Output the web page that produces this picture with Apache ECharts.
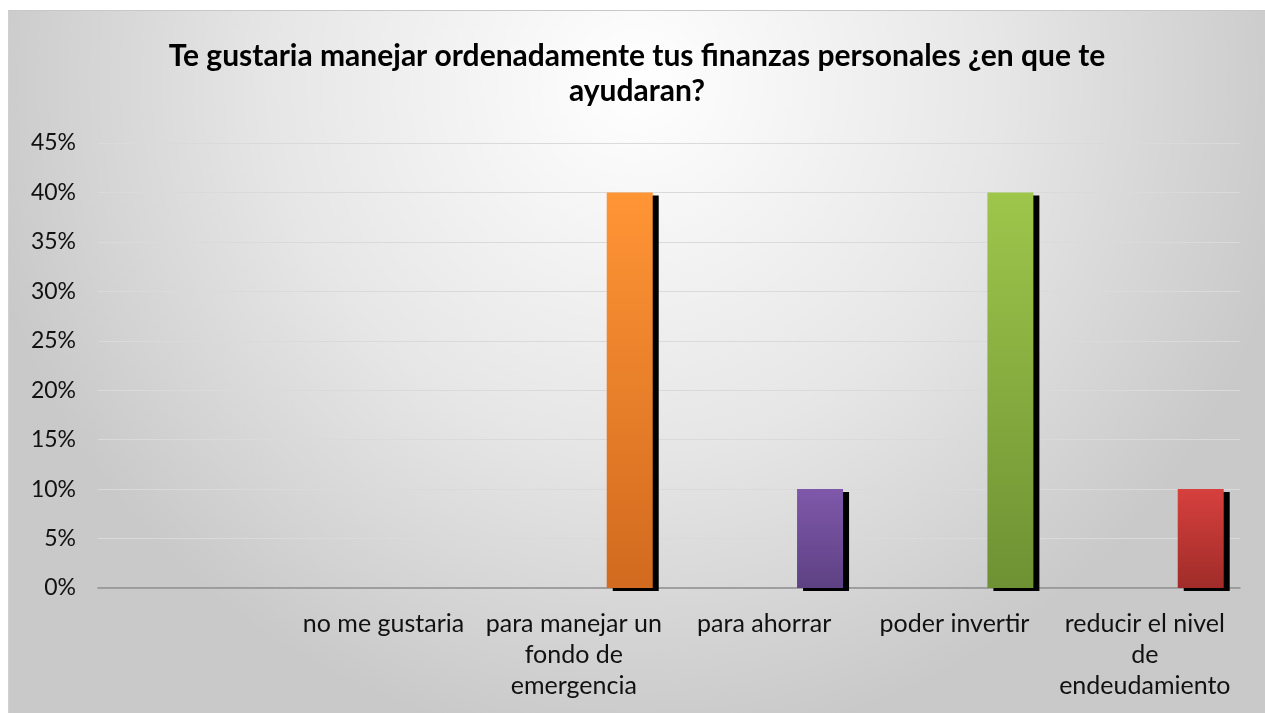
<!DOCTYPE html>
<html>
<head>
<meta charset="utf-8">
<script src="https://cdn.jsdelivr.net/npm/echarts@6/dist/echarts.min.js"></script>
<style>
    html, body { margin: 0; padding: 0; background: #ffffff; }
    #chart {
        position: absolute;
        left: 8px;
        top: 10px;
        width: 1257px;
        height: 703px;
        border-top: 1px solid #c8c8c8;
        border-left: 1px solid #d0d0d0;
        box-sizing: border-box;
    }
</style>
</head>
<body>
<div id="chart"></div>
<script>
    'use strict';
    var titleText = 'Te gustaria manejar ordenadamente tus finanzas personales ¿en que te\nayudaran?';
    var categories = ['', 'no me gustaria', 'para manejar un\nfondo de\nemergencia', 'para ahorrar', 'poder invertir', 'reducir el nivel\nde\nendeudamiento'];
    var values = [0, 0, 40, 10, 40, 10];
    var yTicks = [0, 5, 10, 15, 20, 25, 30, 35, 40, 45];
    // colores de cada barra: arriba / abajo
    var barTop = ['#f79646', '#f79646', '#ff9535', '#7f58aa', '#9ec64b', '#d6403d'];
    var barBottom = ['#d06a20', '#d06a20', '#d26a1f', '#5e4184', '#6e9133', '#a02c29'];

    var chart = echarts.init(document.getElementById('chart'));

    var barData = values.map(function (v, i) {
        return {
            value: v,
            itemStyle: {
                color: new echarts.graphic.LinearGradient(0, 0, 0, 1, [
                    {offset: 0, color: barTop[i]},
                    {offset: 1, color: barBottom[i]}
                ])
            }
        };
    });

    var option = {
        backgroundColor: new echarts.graphic.RadialGradient(0.5, 0.1, 0.95, [
            {offset: 0, color: '#ffffff'},
            {offset: 0.55, color: '#e6e6e6'},
            {offset: 1, color: '#c9c9c9'}
        ]),
        animation: false,
        title: {
            text: titleText,
            left: 'center',
            top: 23,
            textStyle: {
                fontFamily: 'Lato',
                fontWeight: 'bold',
                fontSize: 30,
                lineHeight: 35,
                color: '#000000'
            }
        },
        grid: {
            left: 89,
            right: 25,
            top: 132,
            bottom: 125,
            containLabel: false
        },
        xAxis: {
            type: 'category',
            data: categories,
            axisLine: {lineStyle: {color: '#8c8c8c', width: 1.5}},
            axisTick: {show: false},
            axisLabel: {
                interval: 0,
                margin: 20,
                fontFamily: 'Lato',
                fontSize: 25,
                lineHeight: 31,
                color: '#111111'
            }
        },
        yAxis: {
            type: 'value',
            min: yTicks[0],
            max: yTicks[yTicks.length - 1],
            interval: 5,
            axisLine: {show: false},
            axisTick: {show: false},
            axisLabel: {
                margin: 22,
                fontFamily: 'Lato',
                fontSize: 23,
                color: '#111111',
                formatter: '{value}%'
            },
            splitLine: {lineStyle: {color: '#dadada', width: 1}}
        },
        series: [
            {
                type: 'bar',
                data: values.map(function () { return '-'; }),
                barWidth: 46,
                barGap: '143%'
            },
            {
                type: 'bar',
                data: barData,
                barWidth: 46,
                barGap: '143%',
                itemStyle: {
                    shadowColor: 'rgba(0,0,0,1)',
                    shadowBlur: 0,
                    shadowOffsetX: 6,
                    shadowOffsetY: 3
                }
            }
        ]
    };

    chart.setOption(option);
</script>
</body>
</html>
